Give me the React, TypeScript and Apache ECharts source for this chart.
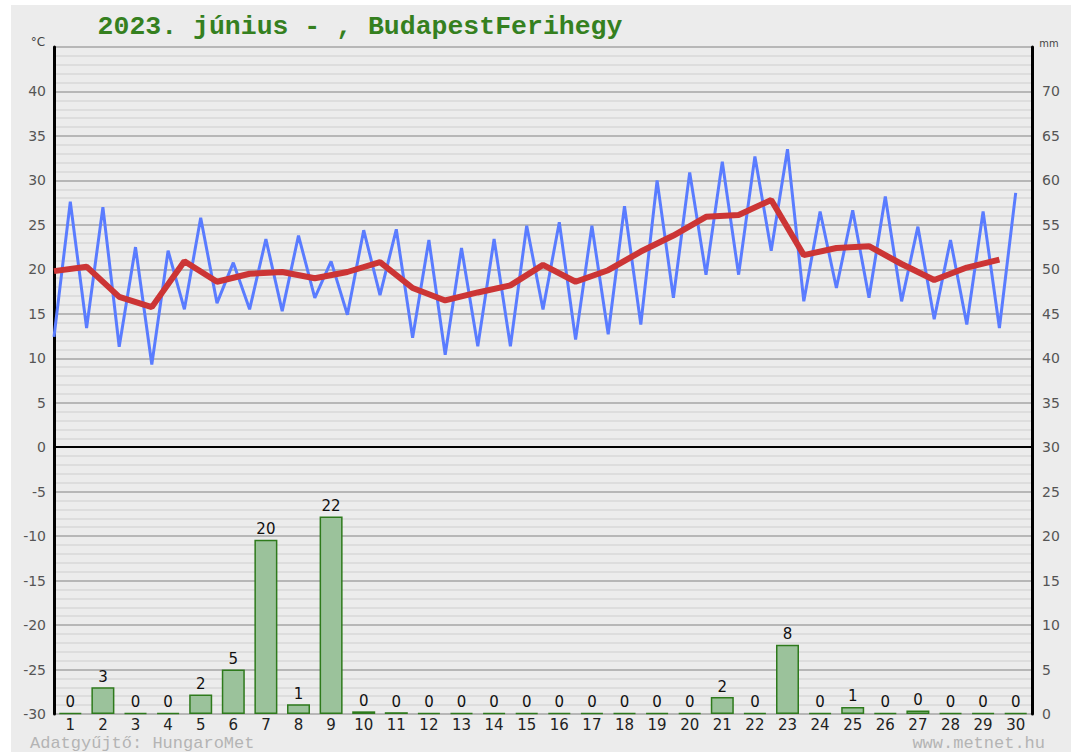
import React, { useEffect, useRef } from "react";
import * as echarts from "echarts";

const days = Array.from({ length: 30 }, (_, i) => String(i + 1));
const dailyMin = [12.4, 13.4, 11.3, 9.3, 15.5, 16.2, 15.5, 15.3, 16.8, 14.9, 17.1, 12.3, 10.4, 11.35, 11.35, 15.5, 12.1, 12.7, 13.8, 16.8, 19.4, 19.4, 22.1, 16.4, 17.9, 16.8, 16.4, 14.4, 13.8, 13.4];
const dailyMax = [27.6, 27.0, 22.5, 22.1, 25.8, 20.75, 23.4, 23.8, 20.9, 24.4, 24.5, 23.3, 22.4, 23.4, 24.9, 25.3, 24.9, 27.1, 30.0, 30.9, 32.1, 32.7, 33.5, 26.5, 26.65, 28.2, 24.8, 23.3, 26.5, 28.6];
const dailyMean = [19.8, 20.3, 16.9, 15.75, 20.9, 18.6, 19.5, 19.7, 19.0, 19.7, 20.8, 17.9, 16.5, 17.4, 18.2, 20.5, 18.6, 19.9, 22.0, 23.8, 25.9, 26.1, 27.8, 21.6, 22.4, 22.6, 20.6, 18.8, 20.2, 21.1];
const precip = [0, 3.0, 0, 0, 2.2, 5.0, 19.6, 1.1, 22.2, 0.3, 0.2, 0, 0, 0, 0, 0, 0, 0, 0, 0, 1.9, 0, 7.8, 0, 0.8, 0, 0.4, 0, 0, 0];

const titleText = "2023. június - , BudapestFerihegy";
const footerLeft = "Adatgyűjtő: HungaroMet";
const footerRight = "www.metnet.hu";

export default function App() {
  const ref = useRef<HTMLDivElement>(null);
  useEffect(() => {
    if (!ref.current) return;
    const chart = echarts.init(ref.current, null, { renderer: "svg" });
    const tempLine: [number, number][] = [];
    dailyMin.forEach((v, i) => {
      tempLine.push([i, v]);
      tempLine.push([i + 0.5, dailyMax[i]]);
    });
    const meanLine: [number, number][] = dailyMean.map((v, i) => [i, v]);
    const axisLabelCommon = {
      color: "#555",
      fontSize: 14,
      fontFamily: "DejaVu Sans",
      verticalAlign: "middle",
      padding: [0, 0, 12, 0],
      showMaxLabel: false,
    };
    chart.setOption({
      animation: false,
      backgroundColor: "#ececec",
      grid: { left: 43, right: 39, top: 42, bottom: 38 },
      xAxis: [
        {
          type: "category",
          data: days,
          boundaryGap: true,
          axisLine: { show: false },
          axisTick: { show: false },
          splitLine: { show: false },
          axisLabel: { color: "#222", fontSize: 15, fontFamily: "DejaVu Sans", margin: 3, interval: 0 },
        },
        {
          type: "value",
          min: 0,
          max: 30,
          show: false,
        },
      ],
      yAxis: [
        {
          type: "value",
          position: "left",
          min: -30,
          max: 45,
          interval: 5,
          axisLine: { show: true, lineStyle: { color: "#000", width: 3 } },
          axisTick: { show: false },
          axisLabel: { ...axisLabelCommon, margin: 8 },
          splitLine: { show: true, lineStyle: { color: "#a6a6a6", width: 1.5 } },
          minorTick: { show: false, splitNumber: 5 },
          minorSplitLine: { show: true, lineStyle: { color: "#d9d9d9", width: 1.5 } },
        },
        {
          type: "value",
          position: "right",
          min: 0,
          max: 75,
          interval: 5,
          axisLine: { show: true, lineStyle: { color: "#000", width: 3 } },
          axisTick: { show: false },
          axisLabel: { ...axisLabelCommon, margin: 10 },
          splitLine: { show: false },
        },
      ],
      series: [
        {
          type: "bar",
          xAxisIndex: 0,
          yAxisIndex: 1,
          data: precip,
          barWidth: 23,
          barMinHeight: 1,
          itemStyle: { color: "#9bc29b", borderColor: "#2e7a1c", borderWidth: 1.5 },
          label: {
            show: true,
            position: "top",
            distance: 3,
            color: "#111",
            fontSize: 15,
            fontFamily: "DejaVu Sans",
            formatter: (p: any) => String(Math.round(p.value)),
          },
          z: 2,
        },
        {
          type: "line",
          xAxisIndex: 1,
          yAxisIndex: 0,
          data: tempLine,
          symbol: "none",
          lineStyle: { color: "#5a7cff", width: 3 },
          markLine: {
            silent: true,
            symbol: ["none", "none"],
            label: { show: false },
            lineStyle: { color: "#000", width: 2, type: "solid" },
            data: [{ yAxis: 0 }],
          },
          z: 3,
        },
        {
          type: "line",
          xAxisIndex: 1,
          yAxisIndex: 0,
          data: meanLine,
          symbol: "none",
          lineStyle: { color: "#cc3535", width: 6 },
          z: 4,
        },
      ],
      graphic: [
        {
          type: "text",
          x: 349,
          y: 22,
          style: {
            text: titleText,
            fill: "#35801f",
            font: "bold 26.5px 'Liberation Mono'",
            textAlign: "center",
            textVerticalAlign: "middle",
          },
        },
        {
          type: "text",
          x: 27,
          y: 37,
          style: { text: "°C", fill: "#444", font: "12px 'DejaVu Sans'", textAlign: "center", textVerticalAlign: "middle" },
        },
        {
          type: "text",
          x: 1038,
          y: 38,
          style: { text: "mm", fill: "#444", font: "11px 'DejaVu Sans Condensed'", textAlign: "center", textVerticalAlign: "middle" },
        },
        {
          type: "text",
          x: 19,
          y: 738,
          style: { text: footerLeft, fill: "#b4b4b4", font: "17px 'Liberation Mono'", textAlign: "left", textVerticalAlign: "middle" },
        },
        {
          type: "text",
          x: 1034,
          y: 738,
          style: { text: footerRight, fill: "#b4b4b4", font: "17px 'Liberation Mono'", textAlign: "right", textVerticalAlign: "middle" },
        },
      ],
    });
    return () => chart.dispose();
  }, []);
  return (
    <div style={{ position: "absolute", left: 0, top: 0, width: 1071, height: 752, background: "#fff" }}>
      <div ref={ref} style={{ position: "absolute", left: 11, top: 5, width: 1060, height: 747 }} />
    </div>
  );
}
